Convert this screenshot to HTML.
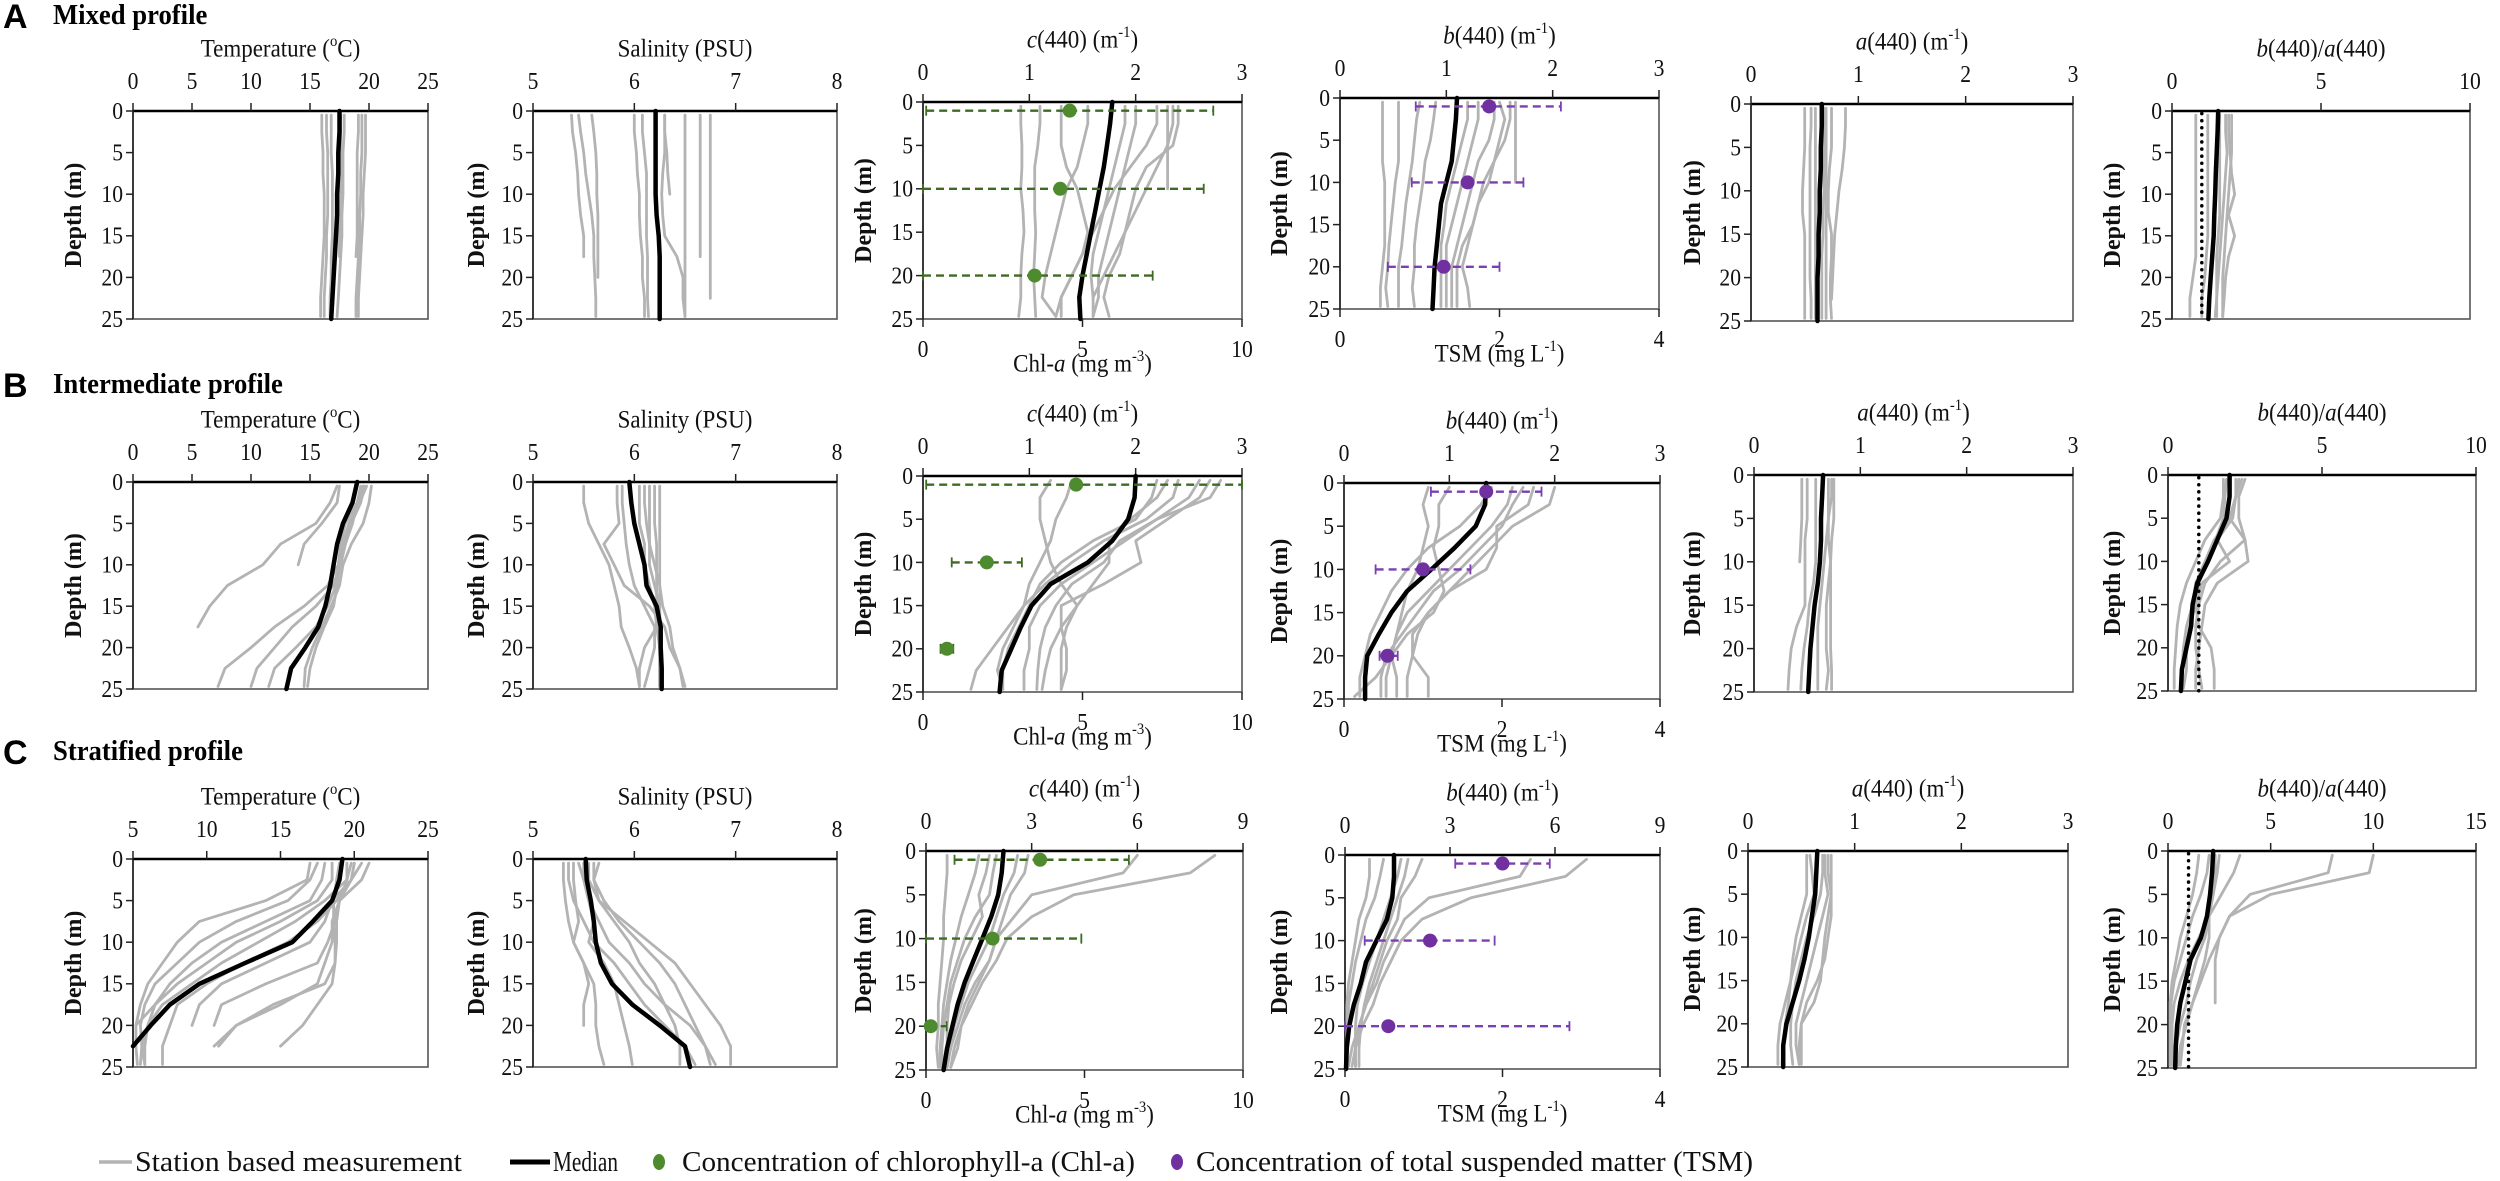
<!DOCTYPE html>
<html><head><meta charset="utf-8"><title>Depth profiles</title>
<style>
html,body{margin:0;padding:0;background:#fff;}
svg{display:block;font-family:"Liberation Serif",serif;}
</style></head>
<body>
<svg id="fig" xmlns="http://www.w3.org/2000/svg" width="2500" height="1181" viewBox="0 0 2500 1181"></svg>
<script>
// ---------- shared depth grids ----------
const depthGrid = [0.5,2.5,5,7.5,10,12.5,15,17.5,20,22.5,24.7];
const medianDepth = [0,2.5,5,7.5,10,12.5,15,17.5,20,22.5,25];
const depthTicks = [0,5,10,15,20,25];
const concDepths = [1,10,20];

// ---------- Row A: mixed ----------
const aTempMedian = [17.5,17.5,17.4,17.4,17.3,17.3,17.2,17.1,17.0,16.9,16.8];
const aTempStations = [
[16.0,16.0,16.1,16.1,16.2,16.2,16.2,16.1,16.0,15.9,15.9],
[16.4,16.4,16.5,16.5,16.5,16.5,16.4,16.4,16.3,16.2,16.2],
[16.8,16.8,16.8,16.9,16.9,16.9,16.9,16.8,16.8,16.7,16.7],
[17.6,17.6,17.6,17.6,17.6,17.5,17.5,17.5,null,null,null],
[17.9,17.9,17.8,17.8,17.8,17.7,17.7,17.6,17.5,17.4,17.3],
[19.1,19.1,19.0,19.0,19.0,19.0,19.0,18.9,null,null,null],
[19.4,19.4,19.4,19.3,19.3,19.2,19.2,19.1,19.0,18.9,18.9],
[19.7,19.7,19.7,19.6,19.5,19.5,19.4,19.3,19.2,19.1,19.1]];
const aSalMedian = [6.21,6.21,6.21,6.21,6.21,6.22,6.24,6.25,6.25,6.25,6.25];
const aSalStations = [
[5.38,5.39,5.42,5.44,5.45,5.47,5.5,5.5,null,null,null],
[5.45,5.47,5.5,5.52,5.55,5.58,5.6,5.6,5.61,5.62,5.62],
[5.58,5.6,5.62,5.63,5.63,5.64,5.64,5.64,5.64,null,null],
[6.0,6.0,6.02,6.03,6.05,6.05,6.06,6.08,6.08,6.1,6.1],
[6.08,6.08,6.1,6.12,6.12,6.12,6.12,6.13,6.13,6.13,6.14],
[6.3,6.3,6.32,6.33,6.35,null,null,null,null,null,null],
[6.3,6.3,6.3,6.28,6.27,6.28,6.3,6.42,6.48,6.48,6.5],
[6.5,6.5,6.5,6.5,6.5,6.5,6.5,6.5,6.5,6.5,6.5],
[6.65,6.65,6.65,6.65,6.65,6.65,6.65,6.65,null,null,null],
[6.75,6.75,6.75,6.75,6.75,6.75,6.75,6.75,6.75,6.75,null]];
const aCMedian = [1.78,1.76,1.73,1.70,1.66,1.62,1.58,1.54,1.50,1.47,1.48];
const aCStations = [
[0.92,0.92,0.93,0.93,0.92,0.94,0.95,0.93,0.92,0.92,0.9],
[1.1,1.1,1.08,1.05,1.05,1.05,1.06,1.05,1.04,1.05,1.06],
[1.55,1.55,1.5,1.45,1.35,1.3,1.25,1.2,1.15,1.12,1.25],
[1.9,1.9,1.85,1.8,1.75,1.7,1.65,1.6,1.58,1.6,1.6],
[2.0,2.0,1.95,1.9,1.85,1.8,1.75,1.7,1.65,1.65,1.6],
[2.2,2.2,2.1,1.95,1.8,1.7,1.6,1.5,1.4,1.3,1.3],
[2.35,2.35,2.3,2.2,2.1,2.0,1.9,1.85,1.75,1.7,1.75],
[2.4,2.4,2.35,2.1,2.0,1.95,1.9,1.8,1.7,1.6,null],
[1.3,1.3,1.3,1.35,1.45,1.5,1.55,1.5,1.4,1.3,1.25],
[2.3,2.3,2.3,2.3,2.3,null,null,null,null,null,null]];
const aChl = [4.6,4.3,3.5], aChlLo = [0.1,0,0], aChlHi = [9.1,8.8,7.2];
const aBMedian = [1.1,1.09,1.07,1.05,1.0,0.95,0.93,0.91,0.89,0.88,0.87];
const aBStations = [
[0.4,0.4,0.4,0.4,0.42,0.42,0.42,0.42,0.4,0.38,0.38],
[0.55,0.55,0.55,0.55,0.52,0.5,0.48,0.46,0.45,0.43,0.45],
[0.75,0.72,0.7,0.68,0.65,0.62,0.6,0.58,0.55,0.55,0.55],
[0.9,0.88,0.85,0.8,0.78,0.75,0.72,0.7,0.7,0.68,0.7],
[1.2,1.2,1.15,1.1,1.05,1.0,0.98,0.95,0.95,0.95,0.95],
[1.3,1.3,1.25,1.2,1.15,1.1,1.05,1.0,1.0,1.0,1.0],
[1.45,1.45,1.4,1.3,1.25,1.2,1.15,1.1,1.05,1.05,1.05],
[1.6,1.6,1.55,1.45,1.4,1.3,1.25,1.2,1.15,1.2,1.22],
[1.65,1.65,1.65,1.65,1.65,null,null,null,null,null,null],
[1.5,1.55,1.5,1.45,1.35,1.3,1.25,1.15,1.1,1.1,1.1]];
const aTsm = [1.87,1.6,1.3], aTsmLo = [0.95,0.9,0.6], aTsmHi = [2.77,2.3,2.0];
const aAMedian = [0.66,0.66,0.65,0.65,0.64,0.64,0.63,0.63,0.62,0.62,0.62];
const aAStations = [
[0.5,0.5,0.5,0.49,0.48,0.48,0.5,0.5,0.5,0.5,0.5],
[0.56,0.56,0.55,0.55,0.55,0.55,0.55,0.55,0.55,0.56,0.56],
[0.6,0.6,0.6,0.6,0.6,0.6,0.6,0.6,0.6,0.6,0.6],
[0.7,0.7,0.7,0.7,0.7,0.7,0.7,0.7,0.7,0.7,0.7],
[0.75,0.75,0.75,0.73,0.72,0.72,0.75,0.75,0.74,0.74,0.75],
[0.88,0.88,0.87,0.85,0.82,0.8,0.78,0.77,0.76,0.75,null],
[0.68,0.68,0.68,0.68,0.68,0.67,0.67,0.66,0.66,0.66,0.66]];
const aRMedian = [1.55,1.53,1.5,1.47,1.45,1.42,1.4,1.35,1.3,1.25,1.22];
const aRStations = [
[0.8,0.8,0.8,0.8,0.8,0.8,0.8,0.8,0.7,0.6,0.6],
[1.2,1.2,1.2,1.2,1.2,1.2,1.2,1.15,1.1,1.0,1.0],
[1.8,1.8,1.85,1.8,1.75,1.7,1.65,1.6,1.55,1.5,1.5],
[2.0,2.0,2.0,1.95,1.9,1.85,1.8,1.75,1.7,1.7,1.7],
[1.9,1.9,1.95,2.0,2.1,1.9,2.1,1.9,1.8,1.75,1.7],
[1.6,1.6,1.6,1.6,1.6,1.6,1.55,1.5,1.5,1.5,1.45]];

// ---------- Row B: intermediate ----------
const bTempMedian = [19.0,18.6,17.8,17.3,17.0,16.7,16.3,15.7,14.6,13.4,13.0];
const bTempStations = [
[17.3,16.7,15.5,12.5,11.0,8.0,6.5,5.5,null,null,null],
[17.5,17.3,16.0,14.5,14.0,null,null,null,null,null,null],
[19.5,19.0,18.0,17.6,17.4,16.5,14.5,12.0,10.0,7.8,7.2],
[19.8,19.2,18.3,17.8,17.5,17.0,15.5,13.5,12.0,10.5,10.0],
[19.6,19.3,18.5,18.0,17.6,17.2,16.5,15.5,13.8,12.0,11.5],
[20.2,20.0,19.5,18.5,17.8,17.5,16.8,16.0,15.2,14.6,14.5],
[19.3,19.0,18.6,18.0,17.5,17.3,17.0,16.2,15.5,15.0,14.8]];
const bSalMedian = [5.95,5.97,6.0,6.05,6.1,6.12,6.22,6.26,6.26,6.27,6.27];
const bSalStations = [
[5.5,5.5,5.55,5.65,5.75,5.8,5.85,5.87,5.95,6.02,6.05],
[5.83,5.83,5.85,5.7,5.8,5.9,6.15,6.3,6.35,6.45,6.5],
[5.88,5.88,5.9,5.92,5.95,6.0,6.1,6.2,6.2,6.15,6.1],
[6.1,6.1,6.12,6.15,6.2,6.25,6.28,6.35,6.38,6.45,6.48],
[6.15,6.15,6.15,6.15,6.15,6.2,6.25,6.25,6.25,6.25,6.25],
[6.2,6.2,6.2,6.22,6.22,6.22,6.22,6.22,6.25,6.25,6.25],
[6.25,6.25,6.25,6.25,6.25,6.25,6.25,6.25,6.25,6.25,6.25],
[6.05,6.05,6.05,6.1,6.1,6.15,6.2,6.22,6.1,6.05,6.05]];
const bCMedian = [2.0,1.99,1.93,1.78,1.55,1.2,1.02,0.92,0.83,0.74,0.72];
const bCStations = [
[1.2,1.1,1.1,1.15,1.2,1.3,1.45,1.35,1.3,1.3,1.3],
[1.4,1.35,1.25,1.2,1.1,1.0,0.95,0.8,0.65,0.5,0.45],
[2.2,2.15,2.0,1.6,1.3,1.1,1.0,0.9,0.8,0.75,0.75],
[2.4,2.35,2.1,1.7,1.4,1.15,0.95,0.85,0.75,0.7,0.75],
[2.6,2.5,2.2,1.9,1.6,1.3,1.1,1.0,1.0,0.95,0.95],
[2.7,2.6,2.3,2.0,2.05,1.7,1.3,1.3,1.35,1.35,1.3],
[2.8,2.7,2.2,1.85,1.7,1.4,1.25,1.15,1.1,1.08,1.07],
[2.3,2.2,1.95,1.75,1.75,1.6,1.45,1.3,1.2,1.15,1.12]];
const bChl = [4.8,2.0,0.75], bChlLo = [0.1,0.9,0.55], bChlHi = [10,3.1,0.95];
const bBMedian = [1.35,1.34,1.25,1.05,0.83,0.6,0.45,0.33,0.22,0.2,0.2];
const bBStations = [
[0.8,0.75,0.8,0.75,0.7,0.6,0.55,0.5,0.45,0.4,0.4],
[1.0,0.9,0.9,0.85,0.9,0.95,0.85,0.6,0.45,0.3,0.1],
[1.4,1.3,1.1,0.8,0.6,0.45,0.35,0.25,0.2,0.15,0.15],
[1.6,1.55,1.4,1.2,1.0,0.8,0.6,0.5,0.45,0.5,0.5],
[1.8,1.75,1.45,1.45,1.35,1.0,0.8,0.65,0.65,0.8,0.8],
[2.0,1.95,1.6,1.4,1.2,1.0,0.8,0.7,0.65,0.6,0.6],
[1.7,1.6,1.5,1.3,1.1,0.85,0.7,0.55,0.4,0.35,0.35]];
const bTsm = [1.8,1.0,0.55], bTsmLo = [1.1,0.4,0.45], bTsmHi = [2.5,1.6,0.68];
const bAMedian = [0.65,0.64,0.63,0.63,0.62,0.6,0.57,0.55,0.53,0.52,0.51];
const bAStations = [
[0.45,0.45,0.45,0.44,0.43,null,null,null,null,null,null],
[0.5,0.5,0.5,0.48,0.48,0.48,0.48,0.4,0.35,0.33,0.32],
[0.58,0.58,0.58,0.58,0.58,0.56,0.52,0.5,0.47,0.45,0.44],
[0.7,0.7,0.7,0.68,0.66,0.64,0.62,0.6,0.6,0.6,0.6],
[0.75,0.75,0.75,0.73,0.72,0.7,0.68,0.68,0.68,0.7,0.68],
[0.73,0.73,0.7,0.7,0.72,0.72,0.72,0.72,0.72,0.73,0.73]];
const bRMedian = [2.0,2.0,1.9,1.6,1.3,0.95,0.8,0.75,0.6,0.45,0.42];
const bRStations = [
[1.8,1.8,1.7,1.2,0.9,0.6,0.4,0.3,0.25,0.2,0.2],
[2.2,2.2,2.0,1.5,1.2,0.9,0.8,0.6,0.5,0.45,0.4],
[2.5,2.3,2.3,2.5,1.7,1.2,1.0,0.9,0.9,1.0,1.1],
[2.4,2.2,2.0,2.5,2.6,1.6,1.2,1.1,1.0,0.9,0.9],
[2.3,2.2,2.1,1.6,2.0,1.1,0.9,0.7,0.6,0.6,0.5],
[1.9,1.85,1.8,1.55,1.3,1.0,0.9,1.0,1.4,1.5,1.5]];

// ---------- Row C: stratified ----------
const cTempMedian = [19.2,19.0,18.5,17.2,15.8,12.6,9.5,7.5,6.2,5.0,null];
const cTempStations = [
[17,16.8,14,9.5,8,7,6,5.5,5.2,5.2,5.3],
[17.5,17,15.5,12,9.5,8,6.5,5.8,5.5,5.6,5.8],
[18,17.8,17,14,11,9,7.5,6.5,6,5.8,5.8],
[18.5,18.5,17.5,15,12,10,8,6.5,5.2,null,null],
[19.5,19.5,18,16,13.5,11,9,7,6,5.6,5.5],
[20,19.8,18.8,17.5,15.5,12.5,10,8,7.5,7,7],
[20.5,19.8,18.5,18,17,14,11,9.5,9,null,null],
[21,20.5,19,18.7,18.2,17.5,14,11,10.5,null,null],
[19.8,19.5,19,18.5,18.5,18,17.5,15,12,10.5,null],
[20,19.8,19,18.8,18.8,18.7,18.5,17.5,16.5,15,null],
[19,18.8,18.6,18.6,18.7,18.7,18,14.5,12,10.8,null]];
const cSalMedian = [5.52,5.53,5.57,5.6,5.62,5.67,5.78,5.98,6.25,6.5,6.55];
const cSalStations = [
[5.3,5.3,5.32,5.35,5.4,5.5,5.6,5.62,5.62,5.65,5.7],
[5.4,5.4,5.42,5.45,5.4,5.5,5.55,5.5,5.5,null,null],
[5.45,5.5,5.55,5.6,5.55,5.7,5.8,5.85,5.9,5.95,5.98],
[5.6,5.6,5.65,5.8,5.95,6.05,6.2,6.3,6.4,6.45,6.45],
[5.65,5.6,5.7,5.85,6.05,6.25,6.4,6.5,6.6,6.7,6.75],
[5.55,5.55,5.65,5.9,6.15,6.4,6.55,6.7,6.85,6.95,6.95],
[5.5,5.5,5.55,5.65,5.75,5.95,6.1,6.3,6.55,6.7,6.8],
[5.35,5.35,5.4,5.5,5.6,5.8,5.95,6.1,6.3,6.5,6.6]];
const cCMedian = [2.2,2.15,2.05,1.85,1.6,1.35,1.1,0.9,0.75,0.6,0.5];
const cCStations = [
[0.6,0.6,0.55,0.5,0.5,0.45,0.4,0.35,0.35,0.3,0.35],
[1.5,1.4,1.2,1.0,0.85,0.7,0.6,0.5,0.45,0.4,0.4],
[1.8,1.7,1.5,1.6,1.3,1.0,0.8,0.65,0.6,0.6,0.6],
[2.6,2.5,2.2,2.0,1.8,1.5,1.2,1.0,0.8,0.7,0.6],
[2.9,2.8,2.4,2.2,2.0,1.8,1.5,1.2,1.0,0.9,0.7],
[6.0,5.6,3.0,2.5,2.0,1.8,1.4,1.1,0.9,0.7,0.6],
[8.2,7.5,4.2,3.0,2.3,2.0,1.6,1.3,1.0,0.8,0.7],
[2.0,1.9,1.8,1.4,1.1,0.9,0.7,0.6,0.5,0.45,0.45]];
const cChl = [3.6,2.1,0.15], cChlLo = [0.9,0.0,0.05], cChlHi = [6.4,4.9,0.65];
const cBMedian = [1.4,1.4,1.35,1.2,0.9,0.6,0.45,0.25,0.12,0.05,0.03];
const cBStations = [
[0.7,0.7,0.6,0.4,0.3,0.2,0.1,0.05,0.05,0.05,0.05],
[1.1,1.0,0.85,0.6,0.45,0.3,0.2,0.1,0.1,null,null],
[1.6,1.5,1.3,1.1,0.9,0.7,0.5,0.35,0.3,0.3,0.3],
[1.8,1.7,1.5,1.3,1.1,0.9,0.7,0.55,0.45,0.4,0.4],
[2.2,2.0,1.6,1.5,1.2,1.0,0.8,0.6,0.4,0.3,0.3],
[5.3,5.0,2.4,1.7,1.4,1.1,0.9,0.6,0.4,0.2,0.1],
[6.9,6.3,3.6,2.2,1.6,1.3,1.0,0.8,0.5,0.3,0.2]];
const cTsm = [2.0,1.08,0.55], cTsmLo = [1.4,0.25,0.0], cTsmHi = [2.6,1.9,2.85];
const cAMedian = [0.65,0.64,0.63,0.6,0.57,0.53,0.48,0.42,0.36,0.33,0.33];
const cAStations = [
[0.55,0.55,0.55,0.5,0.45,0.42,0.4,0.35,0.3,0.28,0.28],
[0.58,0.6,0.62,0.55,0.5,0.45,0.4,0.38,0.35,0.33,0.32],
[0.7,0.7,0.68,0.62,0.55,0.5,0.45,0.42,0.4,0.4,0.42],
[0.72,0.72,0.75,0.7,0.65,0.6,0.55,0.5,0.45,0.45,0.48],
[0.78,0.78,0.78,0.75,0.72,0.7,0.68,0.62,0.5,0.48,0.48],
[0.75,0.75,0.78,0.78,0.75,0.72,0.65,0.55,0.5,0.5,0.5]];
const cRMedian = [2.2,2.15,2.05,1.9,1.6,1.1,0.85,0.6,0.45,0.38,0.35];
const cRStations = [
[1.5,1.4,1.2,0.9,0.6,0.4,0.2,0.1,0.1,0.1,0.1],
[2.0,1.9,1.6,1.2,0.9,0.6,0.3,0.15,0.15,0.2,0.2],
[2.5,2.4,2.2,2.0,1.8,1.4,1.1,0.9,0.6,0.4,0.3],
[3.5,3.2,2.6,2.0,2.0,1.8,1.5,1.2,0.8,0.7,0.6],
[8.0,7.8,4.0,3.0,2.5,2.3,2.3,2.3,null,null,null],
[10.0,9.8,5.0,3.0,2.5,2.0,1.6,1.2,0.9,0.6,0.5],
[2.3,2.3,2.2,2.0,1.5,1.0,0.6,0.3,0.2,0.2,0.2]];
const ratioReference = 1.0;

// ---------- axis tick labels ----------
const ticksTempA = [0,5,10,15,20,25], ticksTempC = [5,10,15,20,25];
const ticksSal = [5,6,7,8];
const ticks03 = [0,1,2,3], ticks09 = [0,3,6,9];
const ticks010 = [0,5,10], ticks015 = [0,5,10,15];
const ticksChl = [0,5,10], ticksTsm = [0,2,4];

// ---------- rendering ----------
const NS = "http://www.w3.org/2000/svg";
const svg = document.getElementById("fig");
function mk(tag, attrs, parent){
  const e = document.createElementNS(NS, tag);
  for (const k in attrs) e.setAttribute(k, attrs[k]);
  (parent||svg).appendChild(e);
  return e;
}
function txt(parent, x, y, str, size, anchor, sx, name){
  const t = mk("text", {transform:`translate(${x},${y}) scale(${sx},1)`, "font-size":size, "text-anchor":anchor, "dominant-baseline":"central", fill:"#111"}, parent);
  
  
  t.textContent = str;
  return t;
}
function titleText(parent, x, y, kind, name){
  const t = mk("text", {transform:`translate(${x},${y}) scale(0.92,1)`, "font-size":25, "text-anchor":"middle", "dominant-baseline":"central", fill:"#111"}, parent);
  
  
  const parts = {
    temp:[["Temperature (",""],["o","sup"],["C)",""]],
    sal:[["Salinity (PSU)",""]],
    c:[["c","i"],["(440) (m",""],["-1","sup"],[")",""]],
    b:[["b","i"],["(440) (m",""],["-1","sup"],[")",""]],
    a:[["a","i"],["(440) (m",""],["-1","sup"],[")",""]],
    r:[["b","i"],["(440)/",""],["a","i"],["(440)",""]],
    chl:[["Chl-",""],["a","i"],[" (mg m",""],["-3","sup"],[")",""]],
    tsm:[["TSM (mg L",""],["-1","sup"],[")",""]]
  }[kind];
  let prevSup=false;
  parts.forEach(([s,st])=>{
    const sp = mk("tspan", {}, t);
    if (st==="i") sp.setAttribute("font-style","italic");
    if (st==="sup"){ sp.setAttribute("font-size","16"); sp.setAttribute("dy","-8"); prevSup=true; }
    else if (prevSup){ sp.setAttribute("dy","8"); prevSup=false; }
    sp.textContent = s;
  });
  return t;
}

function panel(cfg){
  const g = mk("g", {});
  
  
  const {x0,x1,y0,y1,min,max} = cfg;
  const X = v => x0 + (v-min)/(max-min)*(x1-x0);
  const Y = d => y0 + d/25*(y1-y0);
  const fr = mk("rect", {x:x0,y:y0,width:x1-x0,height:y1-y0,fill:"none",stroke:"#555","stroke-width":1.6}, g);
  
  
  const topAx = mk("line", {x1:x0,x2:x1,y1:y0,y2:y0,stroke:"#000","stroke-width":2.4}, g);
  
  
  const leftAx = mk("line", {x1:x0,x2:x0,y1:y0,y2:y1,stroke:"#222","stroke-width":1.6}, g);
  
  
  cfg.ticks.forEach(v=>{
    const tk = mk("line", {x1:X(v),x2:X(v),y1:y0-8,y2:y0,stroke:"#222","stroke-width":1.5}, g);
    
    
    txt(g, X(v), y0-30, String(v), 24, "middle", 0.9, 'x-tick-label');
  });
  depthTicks.forEach(d=>{
    const tk = mk("line", {x1:x0-7,x2:x0,y1:Y(d),y2:Y(d),stroke:"#222","stroke-width":1.5}, g);
    
    
    txt(g, x0-10, Y(d), String(d), 24, "end", 0.9, 'depth-tick-label');
  });
  titleText(g, (x0+x1)/2, y0-62, cfg.kind, 'panel-title');
  const dl = mk("text", {transform:`translate(${cfg.dlx},${(y0+y1)/2}) rotate(-90)`, "font-size":24, "text-anchor":"middle", "dominant-baseline":"central", fill:"#111", "font-weight":"bold"}, g);
  
  
  dl.textContent = "Depth (m)";
  cfg.stations.forEach(arr=>{
    let pts=[];
    arr.forEach((v,i)=>{ if(v!==null) pts.push(X(v).toFixed(1)+","+Y(depthGrid[i]).toFixed(1)); });
    const pl = mk("polyline", {points:pts.join(" "), fill:"none", stroke:"#b3b3b3", "stroke-width":2.8, "stroke-linejoin":"round","stroke-linecap":"round"}, g);
    
    
  });
  if (cfg.ref!==undefined){
    const rl = mk("line", {x1:X(cfg.ref),x2:X(cfg.ref),y1:Y(0.3),y2:Y(25),stroke:"#000","stroke-width":3.5,"stroke-dasharray":"0.1 7","stroke-linecap":"round"}, g);
    
    
  }
  let mp=[];
  cfg.median.forEach((v,i)=>{ if(v!==null) mp.push(X(v).toFixed(1)+","+Y(medianDepth[i]).toFixed(1)); });
  const ml = mk("polyline", {points:mp.join(" "), fill:"none", stroke:"#000", "stroke-width":4.5, "stroke-linejoin":"round","stroke-linecap":"round"}, g);
  
  
  if (cfg.conc){
    const c = cfg.conc;
    const CX = v => x0 + (v-c.min)/(c.max-c.min)*(x1-x0);
    c.ticks.forEach(v=>{
      const tk = mk("line", {x1:CX(v),x2:CX(v),y1:y1,y2:y1+8,stroke:"#222","stroke-width":1.5}, g);
      
      
      txt(g, CX(v), y1+30, String(v), 24, "middle", 0.9, 'conc-tick-label');
    });
    titleText(g, (x0+x1)/2, y1+45, c.kind, 'conc-axis-title');
    c.vals.forEach((v,i)=>{
      const yy = Y(concDepths[i]);
      const eb = mk("line", {x1:CX(c.lo[i]),x2:CX(c.hi[i]),y1:yy,y2:yy,stroke:c.color,"stroke-width":2.4,"stroke-dasharray":"8 5"}, g);
      
      
      [c.lo[i],c.hi[i]].forEach(e=>{
        const cap = mk("line", {x1:CX(e),x2:CX(e),y1:yy-5,y2:yy+5,stroke:c.color,"stroke-width":1.8}, g);
        
        
      });
      const dot = mk("ellipse", {cx:CX(v),cy:yy,rx:7,ry:7,fill:c.dot}, g);
      
      
    });
  }
}

const G = {col:"#3e6b22", dot:"#4e8a2e"}, P = {col:"#7b3fb0", dot:"#7030a0"};
const rows = [
 {temp:[133,428,111,319], sal:[533,837,111,319], c:[923,1242,102,319], b:[1340,1659,98,309], a:[1751,2073,104,321], r:[2172,2470,111,319],
  data:{tm:aTempMedian,ts:aTempStations,sm:aSalMedian,ss:aSalStations,cm:aCMedian,cs:aCStations,chl:[aChl,aChlLo,aChlHi],bm:aBMedian,bs:aBStations,tsm:[aTsm,aTsmLo,aTsmHi],am:aAMedian,as:aAStations,rm:aRMedian,rs:aRStations}, tmin:0, tt:ticksTempA, cmax:3, ct:ticks03, rmax:10, rt:ticks010, id:"mixed"},
 {temp:[133,428,482,689], sal:[533,837,482,689], c:[923,1242,476,692], b:[1344,1660,483,699], a:[1754,2073,475,692], r:[2168,2476,475,691],
  data:{tm:bTempMedian,ts:bTempStations,sm:bSalMedian,ss:bSalStations,cm:bCMedian,cs:bCStations,chl:[bChl,bChlLo,bChlHi],bm:bBMedian,bs:bBStations,tsm:[bTsm,bTsmLo,bTsmHi],am:bAMedian,as:bAStations,rm:bRMedian,rs:bRStations}, tmin:0, tt:ticksTempA, cmax:3, ct:ticks03, rmax:10, rt:ticks010, id:"intermediate"},
 {temp:[133,428,859,1067], sal:[533,837,859,1067], c:[926,1243,851,1070], b:[1345,1660,855,1069], a:[1748,2068,851,1067], r:[2168,2476,851,1068],
  data:{tm:cTempMedian,ts:cTempStations,sm:cSalMedian,ss:cSalStations,cm:cCMedian,cs:cCStations,chl:[cChl,cChlLo,cChlHi],bm:cBMedian,bs:cBStations,tsm:[cTsm,cTsmLo,cTsmHi],am:cAMedian,as:cAStations,rm:cRMedian,rs:cRStations}, tmin:5, tt:ticksTempC, cmax:9, ct:ticks09, rmax:15, rt:ticks015, id:"stratified"}
];
rows.forEach(r=>{
  const d = r.data;
  const box = a => ({x0:a[0],x1:a[1],y0:a[2],y1:a[3]});
  panel({...box(r.temp), name:r.id+"-temperature-panel", kind:"temp", min:r.tmin, max:25, ticks:r.tt, dlx:74, median:d.tm, stations:d.ts});
  panel({...box(r.sal), name:r.id+"-salinity-panel", kind:"sal", min:5, max:8, ticks:ticksSal, dlx:477, median:d.sm, stations:d.ss});
  panel({...box(r.c), name:r.id+"-c440-panel", kind:"c", min:0, max:r.cmax, ticks:r.ct, dlx:864, median:d.cm, stations:d.cs,
    conc:{kind:"chl", min:0, max:10, ticks:ticksChl, vals:d.chl[0], lo:d.chl[1], hi:d.chl[2], color:G.col, dot:G.dot}});
  panel({...box(r.b), name:r.id+"-b440-panel", kind:"b", min:0, max:r.cmax, ticks:r.ct, dlx:1280, median:d.bm, stations:d.bs,
    conc:{kind:"tsm", min:0, max:4, ticks:ticksTsm, vals:d.tsm[0], lo:d.tsm[1], hi:d.tsm[2], color:P.col, dot:P.dot}});
  panel({...box(r.a), name:r.id+"-a440-panel", kind:"a", min:0, max:3, ticks:ticks03, dlx:1693, median:d.am, stations:d.as});
  panel({...box(r.r), name:r.id+"-ratio-panel", kind:"r", min:0, max:r.rmax, ticks:r.rt, dlx:2113, median:d.rm, stations:d.rs, ref:ratioReference});
});

[["A","Mixed profile",17],["B","Intermediate profile",386],["C","Stratified profile",753]].forEach(([L,T,y])=>{
  const l = mk("text", {x:3,y:y,"font-size":34,"font-weight":"bold","font-family":"Liberation Sans, sans-serif","dominant-baseline":"central",fill:"#000"});
  
  
  l.textContent = L;
  const t = mk("text", {transform:`translate(53,${y-2}) scale(0.92,1)`,"font-size":29,"font-weight":"bold","dominant-baseline":"central",fill:"#000"});
  
  
  t.textContent = T;
});

const lg = mk("g", {});


const LY = 1162;
const l1 = mk("line", {x1:99,x2:132,y1:LY,y2:LY,stroke:"#b3b3b3","stroke-width":3.5}, lg);


const l2 = mk("line", {x1:510,x2:550,y1:LY,y2:LY,stroke:"#000","stroke-width":5}, lg);


const d1 = mk("ellipse", {cx:659,cy:LY,rx:6,ry:8,fill:G.dot}, lg);


const d2 = mk("ellipse", {cx:1177,cy:LY,rx:6,ry:8,fill:P.dot}, lg);


[[135,327,"Station based measurement","legend-station-label"],[553,65,"Median","legend-median-label"],[682,453,"Concentration of chlorophyll-a (Chl-a)","legend-chl-label"],[1196,557,"Concentration of total suspended matter (TSM)","legend-tsm-label"]].forEach(([x,w,s,n])=>{
  const t = mk("text", {x:x,y:LY,"font-size":29,"dominant-baseline":"central",fill:"#111",textLength:w,lengthAdjust:"spacingAndGlyphs"}, lg);
  
  
  t.textContent = s;
});
</script>
</body></html>
